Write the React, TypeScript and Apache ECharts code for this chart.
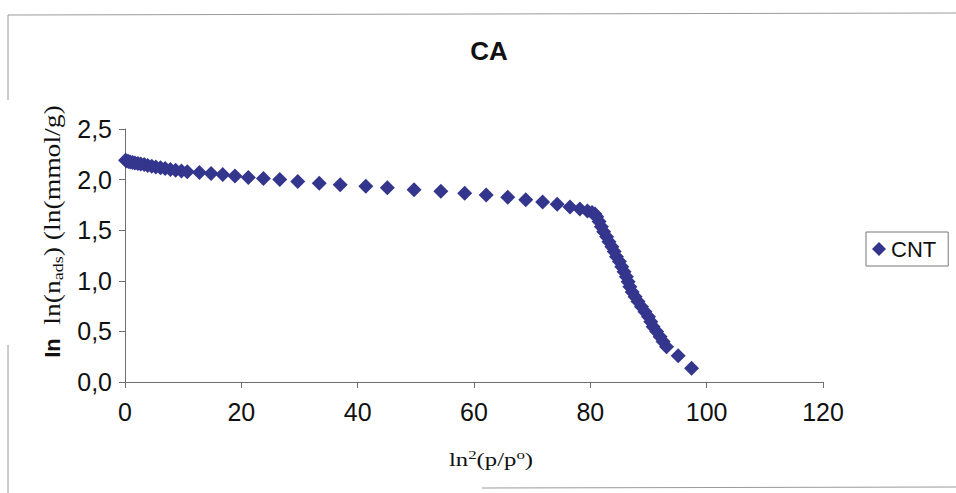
import React, { useEffect, useRef } from "react";
import * as echarts from "echarts";

// ln²(p/p°) values and ln(n_ads) values for the CNT isotherm
const xValues: number[] = [
  0.1, 0.3, 0.6, 0.9, 1.3, 1.7, 2.2, 2.7, 3.3, 3.9, 4.6, 5.3, 6.1, 6.9, 7.8, 8.7, 9.7, 10.7, 12.8,
  14.8, 16.8, 18.9, 21.2, 23.8, 26.6, 29.7, 33.4, 37.0, 41.4, 45.1, 49.7, 54.3, 58.4, 62.1, 65.8,
  68.9, 71.8, 74.3, 76.5, 78.2, 79.5, 80.3, 80.8, 81.1, 81.5, 81.9, 82.3, 82.8, 83.2, 83.7, 84.1,
  84.5, 85.0, 85.4, 85.8, 86.2, 86.5, 86.8, 87.2, 87.7, 88.2, 88.8, 89.4, 90.0, 90.4, 90.8, 91.4,
  92.0, 92.5, 93.1, 95.1, 97.4,
];
const yValues: number[] = [
  2.19, 2.185, 2.18, 2.175, 2.17, 2.165, 2.16, 2.155, 2.148, 2.14, 2.133, 2.125, 2.117, 2.11, 2.1,
  2.093, 2.085, 2.078, 2.07, 2.06, 2.05, 2.035, 2.02, 2.01, 2.0, 1.98, 1.965, 1.95, 1.935, 1.92,
  1.9, 1.885, 1.865, 1.848, 1.825, 1.8, 1.778, 1.756, 1.73, 1.71, 1.69, 1.675, 1.66, 1.633, 1.585,
  1.535, 1.485, 1.436, 1.385, 1.337, 1.29, 1.238, 1.19, 1.139, 1.09, 1.04, 0.99, 0.942, 0.89,
  0.843, 0.795, 0.744, 0.695, 0.645, 0.595, 0.546, 0.5, 0.448, 0.4, 0.349, 0.26, 0.135,
];
const seriesName = "CNT";
const chartTitle = "CA";

const SANS = "'Liberation Sans', Arial, sans-serif";
const SERIF = "'Liberation Serif', 'Times New Roman', serif";
const MARK = "#34358d";
const FRAME = "#9a9a9a";
const AXIS = "#6f6f6f";

export default function App() {
  const ref = useRef<HTMLDivElement>(null);

  useEffect(() => {
    if (!ref.current) return;
    const chart = echarts.init(ref.current, null, { renderer: "svg" });
    const points = xValues.map((x, i) => [x, yValues[i]]);
    const fmt = (v: number) => v.toFixed(1).replace(".", ",");

    chart.setOption({
      animation: false,
      backgroundColor: "#ffffff",
      title: {
        text: chartTitle,
        left: 484,
        top: 33,
        textAlign: "center",
        textStyle: { fontFamily: SANS, fontSize: 26, fontWeight: "bold", color: "#111" },
      },
      legend: {
        left: 866,
        top: 232,
        orient: "vertical",
        icon: "diamond",
        itemWidth: 14,
        itemHeight: 14,
        itemGap: 4,
        padding: [6, 12, 6, 6],
        borderColor: "#777",
        borderWidth: 1,
        textStyle: { fontFamily: SANS, fontSize: 22, color: "#111" },
        data: [seriesName],
      },
      grid: {
        left: 125,
        right: 133,
        top: 129,
        bottom: 111,
        outerBoundsMode: "none",
      },
      xAxis: {
        type: "value",
        min: 0,
        max: 120,
        interval: 20,
        splitLine: { show: false },
        axisLine: { show: true, onZero: false, lineStyle: { color: AXIS, width: 1 } },
        axisTick: { show: true, inside: false, length: 6, lineStyle: { color: AXIS } },
        axisLabel: { fontFamily: SANS, fontSize: 25, color: "#111", margin: 17 },
      },
      yAxis: {
        type: "value",
        min: 0,
        max: 2.5,
        interval: 0.5,
        splitLine: { show: false },
        axisLine: { show: true, onZero: false, lineStyle: { color: AXIS, width: 1 } },
        axisTick: { show: true, inside: false, length: 6, lineStyle: { color: AXIS } },
        axisLabel: { fontFamily: SANS, fontSize: 25, color: "#111", margin: 13, formatter: fmt },
      },
      series: [
        {
          name: seriesName,
          type: "scatter",
          data: points,
          symbol: "diamond",
          symbolSize: 15,
          itemStyle: { color: MARK, opacity: 1 },
        },
      ],
      graphic: [
        // outer chart frame (partly visible)
        { type: "line", shape: { x1: 8, y1: 15, x2: 956, y2: 13 }, style: { stroke: FRAME, lineWidth: 1 } },
        { type: "line", shape: { x1: 8, y1: 15, x2: 8, y2: 100 }, style: { stroke: FRAME, lineWidth: 1 } },
        { type: "line", shape: { x1: 8, y1: 345, x2: 8, y2: 493 }, style: { stroke: FRAME, lineWidth: 1 } },
        { type: "line", shape: { x1: 482, y1: 488, x2: 956, y2: 487 }, style: { stroke: FRAME, lineWidth: 1 } },
        // y axis title
        {
          type: "text",
          x: 52,
          y: 215,
          rotation: Math.PI / 2,
          scaleX: 1.2,
          style: {
            text: "ln(n{sub|ads}) (ln(mmol/g)",
            fontFamily: SERIF,
            fontSize: 23,
            fill: "#111",
            align: "center",
            verticalAlign: "middle",
            rich: {
              sub: { fontFamily: SERIF, fontSize: 15, fill: "#111", verticalAlign: "bottom", lineHeight: 27 },
            },
          },
        },
        {
          type: "text",
          x: 52,
          y: 348,
          rotation: Math.PI / 2,
          style: {
            text: "In",
            fontFamily: SANS,
            fontSize: 22,
            fontWeight: "bold",
            fill: "#111",
            align: "center",
            verticalAlign: "middle",
          },
        },
        // x axis title
        {
          type: "text",
          x: 491,
          y: 460,
          scaleX: 1.3,
          style: {
            text: "ln{sup|2}(p/p{sup|o})",
            fontFamily: SERIF,
            fontSize: 19,
            fill: "#111",
            align: "center",
            verticalAlign: "middle",
            rich: {
              sup: { fontFamily: SERIF, fontSize: 13, fill: "#111", verticalAlign: "top", lineHeight: 23 },
            },
          },
        },
      ],
    });

    return () => chart.dispose();
  }, []);

  return (
    <div
      ref={ref}
      style={{ position: "fixed", left: 0, top: 0, width: 956, height: 493, background: "#fff" }}
    />
  );
}
